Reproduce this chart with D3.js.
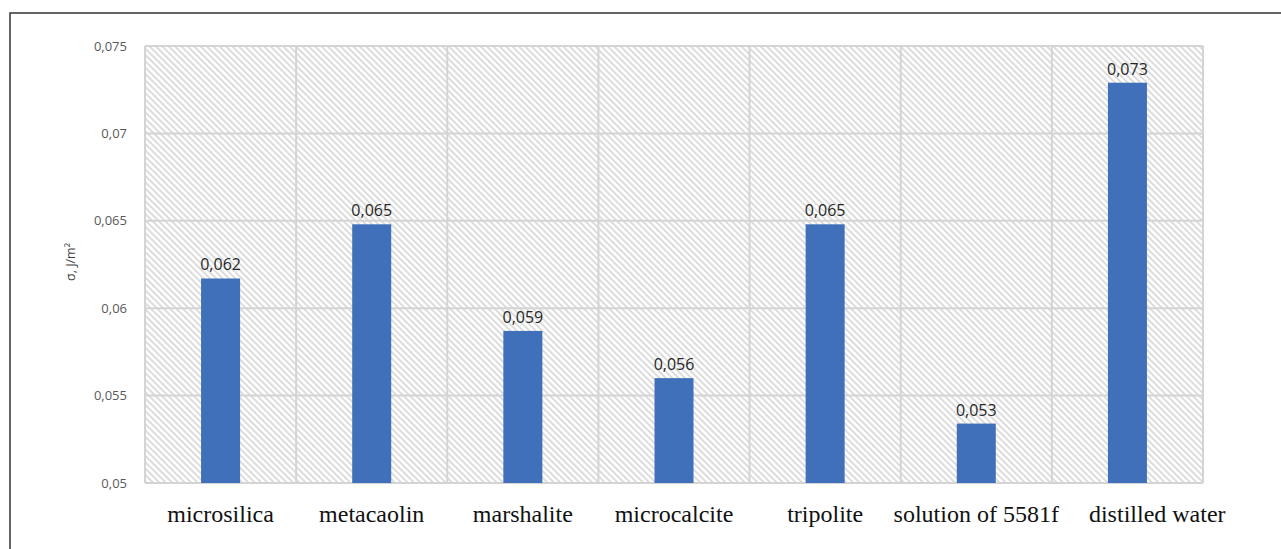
<!DOCTYPE html>
<html>
<head>
<meta charset="utf-8">
<script src="https://cdn.jsdelivr.net/npm/d3@7"></script>
<style>
html,body{margin:0;padding:0;background:#fff;}
svg{display:block;}
</style>
</head>
<body>
<svg id="chart" width="1281" height="549"></svg>
<script>
const categories = ["microsilica","metacaolin","marshalite","microcalcite","tripolite","solution of 5581f","distilled water"];
const values = [0.0617, 0.0648, 0.0587, 0.0560, 0.0648, 0.0534, 0.0729];
const valueLabels = ["0,062","0,065","0,059","0,056","0,065","0,053","0,073"];
const yTicks = [0.05, 0.055, 0.06, 0.065, 0.07, 0.075];
const yTickLabels = ["0,05","0,055","0,06","0,065","0,07","0,075"];
const yTitle = "σ, J/m²";

const svg = d3.select("#chart");
const m = {left:145, right:1203, top:46, bottom:483};

// outer frame
svg.append("rect").attr("x",10).attr("y",13).attr("width",1300).attr("height",600)
  .attr("fill","none").attr("stroke","#404040").attr("stroke-width",1.6);

const defs = svg.append("defs");
const pat = defs.append("pattern").attr("id","hatch").attr("patternUnits","userSpaceOnUse")
  .attr("width",4.5).attr("height",4.5).attr("patternTransform","rotate(-45)");
pat.append("rect").attr("width",4.5).attr("height",4.5).attr("fill","#ffffff");
pat.append("line").attr("x1",1).attr("y1",0).attr("x2",1).attr("y2",4.5)
  .attr("stroke","#d9d9d9").attr("stroke-width",1.8);

const x = d3.scaleBand().domain(categories).range([m.left,m.right]).paddingInner(0).paddingOuter(0);
const y = d3.scaleLinear().domain([0.05,0.075]).range([m.bottom,m.top]);

svg.append("rect").attr("x",m.left).attr("y",m.top).attr("width",m.right-m.left).attr("height",m.bottom-m.top)
  .attr("fill","url(#hatch)");

// horizontal gridlines
svg.append("g").selectAll("line").data(yTicks).join("line")
  .attr("x1",m.left).attr("x2",m.right).attr("y1",d=>y(d)).attr("y2",d=>y(d))
  .attr("stroke","#d4d4d4").attr("stroke-width",2);
// vertical gridlines
const vlines = categories.map(c=>x(c)).concat([m.right]);
svg.append("g").selectAll("line").data(vlines).join("line")
  .attr("x1",d=>d).attr("x2",d=>d).attr("y1",m.top).attr("y2",m.bottom)
  .attr("stroke","#d4d4d4").attr("stroke-width",2);

// bars
const bw = 39;
svg.append("g").selectAll("rect").data(values).join("rect")
  .attr("x",(d,i)=>x(categories[i])+x.bandwidth()/2-bw/2)
  .attr("width",bw)
  .attr("y",d=>y(d))
  .attr("height",d=>y(0.05)-y(d))
  .attr("fill","#4070ba");

// value labels
svg.append("g").selectAll("text").data(values).join("text")
  .attr("x",(d,i)=>x(categories[i])+x.bandwidth()/2)
  .attr("y",d=>y(d)-8)
  .attr("text-anchor","middle")
  .attr("font-family","'Open Sans', 'Noto Sans', sans-serif")
  .attr("font-size",16)
  .attr("fill","#262626")
  .text((d,i)=>valueLabels[i]);

// y axis labels
const yAxis = d3.axisLeft(y).tickValues(yTicks).tickFormat((d,i)=>yTickLabels[i]).tickSize(0).tickPadding(18);
const ga = svg.append("g").attr("transform",`translate(${m.left},0)`).call(yAxis);
ga.select(".domain").remove();
ga.selectAll("text").attr("font-family","'Open Sans', 'Noto Sans', sans-serif").attr("font-size",13).attr("fill","#595959");

// y title
svg.append("text").attr("transform","translate(75,262) rotate(-90)")
  .attr("text-anchor","middle")
  .attr("font-family","'Open Sans', 'Noto Sans', sans-serif")
  .attr("font-size",12.5).attr("fill","#404040").text(yTitle);

// x labels, centred under each band, pushed right if they would collide
const xl = svg.append("g").selectAll("text").data(categories).join("text")
  .attr("x",d=>x(d)+x.bandwidth()/2)
  .attr("y",522)
  .attr("text-anchor","middle")
  .attr("font-family","'Liberation Serif', 'Times New Roman', serif")
  .attr("font-size",24)
  .attr("fill","#111")
  .text(d=>d);
let prevEnd = -Infinity;
xl.each(function(){
  const bb = this.getBBox();
  let shift = 0;
  if (bb.x < prevEnd + 30) shift = prevEnd + 30 - bb.x;
  if (shift) d3.select(this).attr("x", +d3.select(this).attr("x") + shift);
  prevEnd = bb.x + bb.width + shift;
});
</script>
</body>
</html>
